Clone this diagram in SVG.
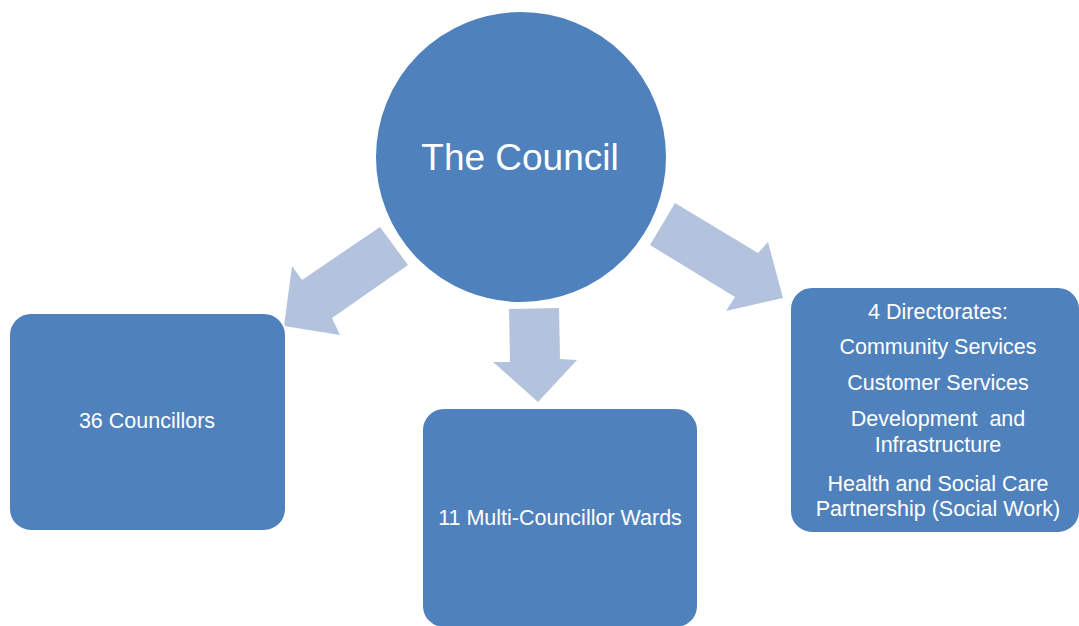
<svg xmlns="http://www.w3.org/2000/svg" width="1079" height="626" viewBox="0 0 1079 626">
<style>
.arrow{fill:#B3C3DE;stroke:none}
.node{fill:#4F81BD;stroke:#FFFFFF;stroke-width:2}
.lbl{font-family:"Liberation Sans",Arial,sans-serif;font-size:21.5px;fill:#FFFFFF;text-anchor:middle}
.big{font-family:"Liberation Sans",Arial,sans-serif;font-size:37px;fill:#FFFFFF;text-anchor:middle}
</style>
<rect width="1079" height="626" fill="#FFFFFF"/>
<g id="connectors">
<polygon class="arrow" points="380,227 408,265 332,318 340,335 284,326 292,266 302,280"/>
<polygon class="arrow" points="509,309 559,308 560,359 577,360 538,402 493,362 510,362"/>
<polygon class="arrow" points="675,203 758,253 768,242 783,298 726,311 735,297 650,245"/>
</g>
<g id="council">
<circle class="node" cx="521" cy="157" r="146"/>
<text class="big" x="520" y="170">The Council</text>
</g>
<g id="councillors">
<rect class="node" x="9" y="313" width="277" height="218" rx="22"/>
<text class="lbl" x="147" y="428">36 Councillors</text>
</g>
<g id="wards">
<rect class="node" x="422" y="408" width="276" height="220" rx="22"/>
<text class="lbl" x="560" y="525">11 Multi-Councillor Wards</text>
</g>
<g id="directorates">
<rect class="node" x="790" y="287" width="290" height="246" rx="22"/>
<text class="lbl" x="938" y="319">4 Directorates:</text>
<text class="lbl" x="938" y="354">Community Services</text>
<text class="lbl" x="938" y="390">Customer Services</text>
<text class="lbl" x="938" y="426">Development&#160; and</text>
<text class="lbl" x="938" y="452">Infrastructure</text>
<text class="lbl" x="938" y="491">Health and Social Care</text>
<text class="lbl" x="938" y="516">Partnership (Social Work)</text>
</g>
</svg>
